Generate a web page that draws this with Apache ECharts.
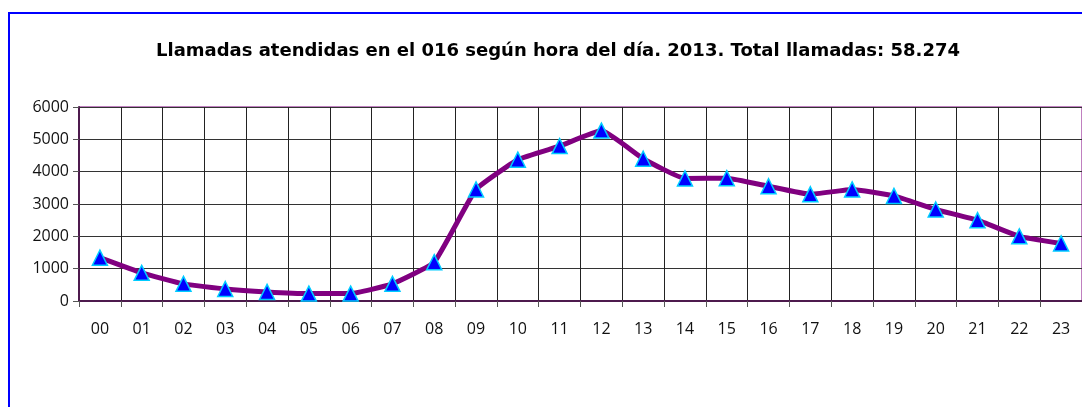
<!DOCTYPE html>
<html>
<head>
<meta charset="utf-8">
<script src="https://cdn.jsdelivr.net/npm/echarts@6/dist/echarts.min.js"></script>
<style>
  html, body { margin: 0; padding: 0; background: #fff; }
  #chart { width: 1082px; height: 407px; }
</style>
</head>
<body>
<div id="chart"></div>
<script>
// horas del día
const hours = ['00', '01', '02', '03', '04', '05', '06', '07', '08', '09', '10', '11',
  '12', '13', '14', '15', '16', '17', '18', '19', '20', '21', '22', '23'];
// llamadas atendidas por hora
const calls = [1340, 870, 530, 370, 280, 230, 230, 530, 1200, 3450, 4370, 4790,
  5270, 4400, 3790, 3800, 3550, 3300, 3450, 3250, 2830, 2500, 2000, 1780];
const yTicks = [0, 1000, 2000, 3000, 4000, 5000, 6000];

const chart = echarts.init(document.getElementById('chart'));

const option = {
  animation: false,
  title: {
    text: 'Llamadas atendidas en el 016 según hora del día. 2013. Total llamadas: 58.274',
    left: 553,
    top: 37,
    textAlign: 'center',
    textStyle: {
      fontFamily: '"DejaVu Sans", sans-serif',
      fontWeight: 'bold',
      fontSize: 18,
      color: '#000'
    }
  },
  // marco azul (solo lados izquierdo y superior visibles)
  graphic: [{
    type: 'polyline',
    shape: { points: [[9, 600], [9, 13], [1300, 13]] },
    style: { fill: 'none', stroke: '#0000ff', lineWidth: 2 },
    silent: true
  }],
  grid: {
    left: 79,
    top: 107,
    right: -2,
    bottom: 106,
    show: true,
    borderColor: '#800080',
    borderWidth: 1
  },
  xAxis: {
    type: 'category',
    data: hours,
    boundaryGap: true,
    axisLine: { lineStyle: { color: '#4d1a4d', width: 2 } },
    axisTick: { show: true, length: 6, interval: 0, lineStyle: { color: '#555' } },
    axisLabel: {
      interval: 0,
      margin: 20,
      fontSize: 16,
      color: '#111',
      fontFamily: '"Open Sans", sans-serif'
    },
    splitLine: { show: true, interval: 0, lineStyle: { color: '#222', width: 1 } }
  },
  yAxis: {
    type: 'value',
    min: yTicks[0],
    max: yTicks[yTicks.length - 1],
    interval: 1000,
    axisLine: { show: true, lineStyle: { color: '#4d1a4d', width: 2 } },
    axisTick: { show: true, length: 6, lineStyle: { color: '#555' } },
    axisLabel: {
      margin: 10,
      fontSize: 16,
      color: '#111',
      fontFamily: '"Open Sans", sans-serif',
      formatter: v => String(v)
    },
    splitLine: { show: true, lineStyle: { color: '#333', width: 1 } }
  },
  series: [{
    type: 'line',
    data: calls,
    smooth: 0.12,
    lineStyle: { color: '#800080', width: 5 },
    symbol: 'triangle',
    symbolSize: 15,
    itemStyle: { color: '#0000ff', borderColor: '#00ccff', borderWidth: 1.5 }
  }]
};

chart.setOption(option);
</script>
</body>
</html>
